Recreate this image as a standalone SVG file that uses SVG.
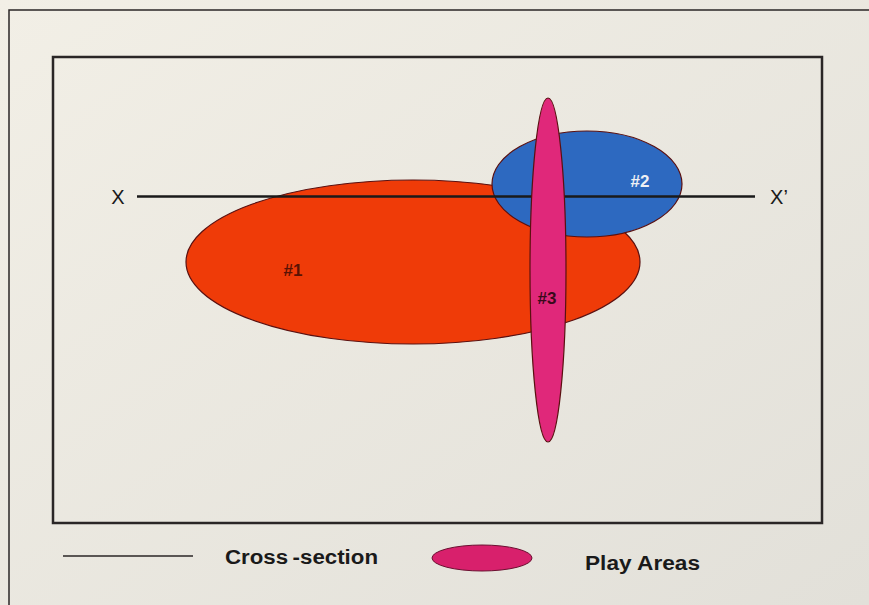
<svg xmlns="http://www.w3.org/2000/svg" width="869" height="605" viewBox="0 0 869 605">
<style>
.frame{fill:none;stroke:#2a2626;}
.area{stroke:#5a1010;stroke-width:1.2;}
.lbl{font-family:"Liberation Sans",Arial,sans-serif;font-weight:bold;font-size:17px;text-anchor:middle;}
.axis{font-family:"Liberation Sans",Arial,sans-serif;font-size:20px;fill:#1a1a1a;text-anchor:middle;}
.leg{font-family:"Liberation Sans",Arial,sans-serif;font-size:20px;font-weight:bold;fill:#1a1a1a;}
</style>
<defs>
<linearGradient id="bg" x1="0" y1="0" x2="1" y2="1">
<stop offset="0" stop-color="#f2efe6"/>
<stop offset="1" stop-color="#e2e0d9"/>
</linearGradient>
</defs>
<rect width="869" height="605" fill="url(#bg)"/>
<rect class="frame" x="9" y="10" width="900" height="640" stroke-width="1.5"/>
<rect class="frame" x="53" y="57" width="769" height="466" stroke-width="2.5"/>
<g id="area1"><ellipse class="area" cx="413" cy="262" rx="227" ry="82" fill="#ef3b08"/><text class="lbl" x="293" y="276" fill="#5a1204">#1</text></g>
<g id="area2"><ellipse class="area" cx="587" cy="184" rx="95" ry="53" fill="#2d69c0" stroke="#1a2a50"/><text class="lbl" x="640" y="187" fill="#eef0f4">#2</text></g>
<g id="connectors"><line x1="137" y1="196.5" x2="755" y2="196.5" stroke="#1a1a1a" stroke-width="2.5"/></g>
<g id="area3"><ellipse class="area" cx="548" cy="270" rx="18" ry="172" fill="#e0287a"/><text class="lbl" x="547" y="304" fill="#3a0a1a">#3</text></g>
<text class="axis" x="118" y="204">X</text>
<text class="axis" x="779" y="204">X’</text>
<g id="legend">
<line x1="63" y1="556" x2="193" y2="556" stroke="#2a2626" stroke-width="1.5"/>
<text class="leg" x="225" y="564" textLength="153" lengthAdjust="spacingAndGlyphs">Cross<tspan dx="4">-section</tspan></text>
<ellipse cx="482" cy="558" rx="50" ry="13" fill="#d8206c" stroke="#6a1030" stroke-width="1"/>
<text class="leg" x="585" y="570" textLength="115" lengthAdjust="spacingAndGlyphs">Play Areas</text>
</g>
</svg>
